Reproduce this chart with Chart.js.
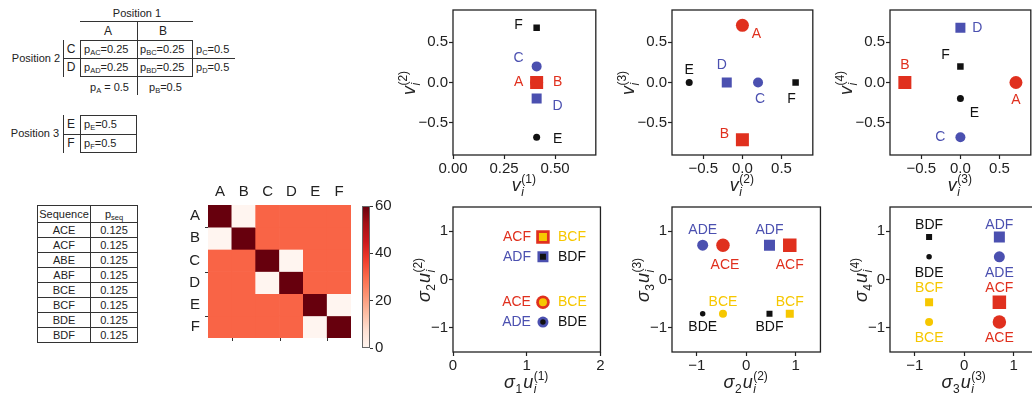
<!DOCTYPE html>
<html>
<head>
<meta charset="utf-8">
<script src="https://cdn.jsdelivr.net/npm/chart.js@4.4.1/dist/chart.umd.min.js"></script>
<style>
body{margin:0;width:1032px;height:398px;overflow:hidden;background:#fff;font-family:"Liberation Sans",Arial,sans-serif;}
#fig{position:relative;width:1032px;height:398px;overflow:hidden;}
canvas{position:absolute;}
.c{position:absolute;transform:translate(-50%,-50%);font-size:11px;white-space:nowrap;color:#222;line-height:1;}
.l{position:absolute;transform:translateY(-50%);font-size:11px;white-space:nowrap;color:#222;line-height:1;}
.h{position:absolute;height:1px;background:#333;}
.v{position:absolute;width:1px;background:#333;}
.box{position:absolute;border:1px solid #333;box-sizing:border-box;}
sub{font-size:7.5px;vertical-align:-2px;line-height:0;}
#seq{position:absolute;left:37px;top:205px;border-collapse:collapse;font-size:11px;color:#222;}
#seq td{border:1px solid #333;padding:0;text-align:center;height:14px;line-height:14px;}
#seq tr.hd td{height:16px;line-height:16px;}
</style>
</head>
<body>
<div id="fig">
  <!-- position 1 / position 2 table -->
  <div class="c" style="left:137px;top:13px">Position 1</div>
  <div class="h" style="left:80px;top:21px;width:113px"></div>
  <div class="c" style="left:108px;top:31px;font-size:12px">A</div>
  <div class="c" style="left:163px;top:31px;font-size:12px">B</div>
  <div class="box" style="left:80px;top:40px;width:113px;height:37px"></div>
  <div class="v" style="left:137px;top:21px;height:74px"></div>
  <div class="h" style="left:63px;top:58px;width:172px"></div>
  <div class="v" style="left:63px;top:40px;height:37px"></div>
  <div class="c" style="left:71px;top:49px;font-size:12px">C</div>
  <div class="c" style="left:71px;top:67px;font-size:12px">D</div>
  <div class="c" style="left:36px;top:58px">Position 2</div>
  <div class="l" style="left:84px;top:49px">p<sub>AC</sub>=0.25</div>
  <div class="l" style="left:140px;top:49px">p<sub>BC</sub>=0.25</div>
  <div class="l" style="left:196px;top:49px">p<sub>C</sub>=0.5</div>
  <div class="l" style="left:84px;top:67px">p<sub>AD</sub>=0.25</div>
  <div class="l" style="left:140px;top:67px">p<sub>BD</sub>=0.25</div>
  <div class="l" style="left:196px;top:67px">p<sub>D</sub>=0.5</div>
  <div class="l" style="left:90px;top:87px">p<sub>A</sub> = 0.5</div>
  <div class="l" style="left:149px;top:87px">p<sub>B</sub>=0.5</div>
  <!-- position 3 table -->
  <div class="box" style="left:80px;top:115px;width:57px;height:38px"></div>
  <div class="v" style="left:63px;top:115px;height:38px"></div>
  <div class="h" style="left:63px;top:134px;width:74px"></div>
  <div class="c" style="left:71px;top:124px;font-size:12px">E</div>
  <div class="c" style="left:71px;top:143px;font-size:12px">F</div>
  <div class="c" style="left:35px;top:133px">Position 3</div>
  <div class="l" style="left:84px;top:124px">p<sub>E</sub>=0.5</div>
  <div class="l" style="left:84px;top:143px">p<sub>F</sub>=0.5</div>
  <table id="seq"><colgroup><col style="width:53px"><col style="width:47px"></colgroup><tbody id="seqBody"></tbody></table>
</div>
<script>
// sequence table
const seqNames = ['ACE', 'ACF', 'ABE', 'ABF', 'BCE', 'BCF', 'BDE', 'BDF'];
const seqProb = [0.125, 0.125, 0.125, 0.125, 0.125, 0.125, 0.125, 0.125];

// co-occurrence matrix (heatmap)
const heatLabels = ['A', 'B', 'C', 'D', 'E', 'F'];
const heatValues = [
  [60, 0, 31, 31, 31, 31],
  [0, 60, 31, 31, 31, 31],
  [31, 31, 60, 0, 31, 31],
  [31, 31, 0, 60, 31, 31],
  [31, 31, 31, 31, 60, 0],
  [31, 31, 31, 31, 0, 60]
];
const cbarTicks = [0, 20, 40, 60];

// eigenvectors, one value per letter
const letters = ['A', 'B', 'C', 'D', 'E', 'F'];
const v1 = [0.41, 0.41, 0.41, 0.41, 0.41, 0.41];
const v2 = [0, 0, 0.2, -0.2, -0.68, 0.68];
const v3 = [0.71, -0.71, 0, 0, 0, 0];
const v4 = [0, 0, -0.68, 0.68, -0.2, 0.2];

// sequence coordinates
const seqs = ['ACE', 'ACF', 'ADE', 'ADF', 'BCE', 'BCF', 'BDE', 'BDF'];
const su1 = [1.22, 1.22, 1.22, 1.22, 1.22, 1.22, 1.22, 1.22];
const su2 = [-0.47, 0.88, -0.88, 0.47, -0.47, 0.88, -0.88, 0.47];
const su3 = [0.71, 0.71, 0.71, 0.71, -0.71, -0.71, -0.71, -0.71];
const su4 = [-0.88, -0.47, 0.47, 0.88, -0.88, -0.47, 0.47, 0.88];

// tick labels
const v1Ticks = [0, 0.25, 0.5];
const vTicks = [-0.5, 0, 0.5];
const su1Ticks = [0, 1, 2];
const suTicks = [-1, 0, 1];

const RED = '#e0301e', BLUE = '#4b50b0', YEL = '#f6c700', BLK = '#111111';
const FONT = '"Liberation Sans", Arial, sans-serif';
Chart.defaults.font.family = FONT;
Chart.defaults.color = '#222';

const fig = document.getElementById('fig');

// fill sequence table
const body = document.getElementById('seqBody');
body.innerHTML = '<tr class="hd"><td>Sequence</td><td>p<sub>seq</sub></td></tr>' +
  seqNames.map((s, i) => '<tr><td>' + s + '</td><td>' + seqProb[i] + '</td></tr>').join('');

function addCanvas(x, y, w, h) {
  const c = document.createElement('canvas');
  c.width = w; c.height = h;
  c.style.left = x + 'px'; c.style.top = y + 'px';
  fig.appendChild(c);
  return c;
}

// matplotlib "Reds"
const REDS = ['#fff5f0', '#fee0d2', '#fcbba1', '#fc9272', '#fb6a4a', '#ef3b2c', '#cb181d', '#a50f15', '#67000d'];
function hex(h) { return [1, 3, 5].map(i => parseInt(h.substr(i, 2), 16)); }
function reds(v) {
  const t = Math.max(0, Math.min(1, v / 60)) * (REDS.length - 1);
  const i = Math.min(Math.floor(t), REDS.length - 2), f = t - i;
  const a = hex(REDS[i]), b = hex(REDS[i + 1]);
  return 'rgb(' + a.map((x, k) => Math.round(x + (b[k] - x) * f)).join(',') + ')';
}

function drawMath(ctx, tokens, x, y, rot) {
  const BASE = 'italic 18px ' + FONT, SMALL = '12px ' + FONT, SMALLI = 'italic 12px ' + FONT;
  const w = t => {
    if (t.b) { ctx.font = BASE; return ctx.measureText(t.b).width + 0.5; }
    let m = 0;
    if (t.sub) { ctx.font = t.subI ? SMALLI : SMALL; m = Math.max(m, ctx.measureText(t.sub).width); }
    if (t.sup) { ctx.font = SMALL; m = Math.max(m, ctx.measureText(t.sup).width); }
    return m + 1;
  };
  ctx.save();
  ctx.translate(x, y);
  if (rot) ctx.rotate(-Math.PI / 2);
  const total = tokens.reduce((s, t) => s + w(t), 0);
  let cx = -total / 2;
  ctx.fillStyle = '#222'; ctx.textAlign = 'left'; ctx.textBaseline = 'alphabetic';
  tokens.forEach(t => {
    const tw = w(t);
    if (t.b) { ctx.font = BASE; ctx.fillText(t.b, cx, 0); }
    else {
      if (t.sub) { ctx.font = t.subI ? SMALLI : SMALL; ctx.fillText(t.sub, cx, 5); }
      if (t.sup) { ctx.font = SMALL; ctx.fillText(t.sup, cx, -8); }
    }
    cx += tw;
  });
  ctx.restore();
}
const vLab = n => [{b: 'v'}, {sub: 'i', subI: true, sup: '(' + n + ')'}];
const suLab = n => [{b: 'σ'}, {sub: String(n)}, {b: 'u'}, {sub: 'i', subI: true, sup: '(' + n + ')'}];

const minus = v => (v < 0 ? '\u2212' : '') + Math.abs(v);
const fmt1 = v => (v < 0 ? '\u2212' : '') + Math.abs(v).toFixed(1);
const fmt2 = v => Math.abs(v).toFixed(2);

function scatterPanel(p) {
  const [cx, cy, cw, ch] = p.cvs;
  const [al, at, ar, ab] = p.area;
  const c = addCanvas(cx, cy, cw, ch);
  const datasets = p.names.map((n, i) => {
    const st = p.styles[i];
    return {
      label: n,
      data: [{x: p.xs[i], y: p.ys[i]}],
      pointStyle: st.shape,
      pointRadius: st.shape === 'rect' ? st.s / Math.SQRT2 : st.s / 2,
      backgroundColor: st.c, borderColor: st.c, borderWidth: 0,
      order: p.names.length - i
    };
  });
  const axis = (min, max, ticks, f, fit) => ({
    type: 'linear', min, max,
    afterFit: fit,
    afterBuildTicks: s => { s.ticks = ticks.map(v => ({value: v})); },
    ticks: {callback: v => f(v), font: {size: 15}, color: '#222', padding: 1, autoSkip: false, maxRotation: 0},
    grid: {drawOnChartArea: false, tickLength: 4, color: '#222', tickWidth: 1.2},
    border: {display: false}
  });
  new Chart(c, {
    type: 'scatter',
    data: {datasets},
    options: {
      responsive: false, animation: false, events: [],
      layout: {padding: {top: at - cy, right: cx + cw - ar, left: 0, bottom: 0}},
      plugins: {legend: {display: false}, tooltip: {enabled: false}},
      scales: {
        x: axis(p.xr[0], p.xr[1], p.xt, p.xf, s => { s.height = cy + ch - ab; }),
        y: axis(p.yr[0], p.yr[1], p.yt, p.yf, s => { s.width = al - cx; })
      }
    },
    plugins: [{
      id: 'deco',
      afterDraw(chart) {
        const ctx = chart.ctx, a = chart.chartArea;
        ctx.save();
        ctx.strokeStyle = '#222'; ctx.lineWidth = 1.3;
        ctx.strokeRect(a.left, a.top, a.right - a.left, a.bottom - a.top);
        ctx.font = '14px ' + FONT; ctx.textBaseline = 'middle';
        p.names.forEach((n, i) => {
          const pt = chart.getDatasetMeta(i).data[0];
          const o = p.offs[i];
          ctx.fillStyle = p.styles[i].c;
          ctx.textAlign = o[2] || 'center';
          ctx.fillText(n, pt.x + o[0], pt.y + o[1]);
        });
        ctx.restore();
        drawMath(ctx, p.xTitle, (a.left + a.right) / 2, a.bottom + 36, false);
        drawMath(ctx, p.yTitle, a.left - p.yGap, (a.top + a.bottom) / 2, true);
      }
    }]
  });
}

// letter marker styles
const letterStyles = [
  {c: RED, shape: 'circle', s: 13}, {c: RED, shape: 'rect', s: 13},
  {c: BLUE, shape: 'circle', s: 10}, {c: BLUE, shape: 'rect', s: 10},
  {c: BLK, shape: 'circle', s: 7}, {c: BLK, shape: 'rect', s: 6.5}
];
const seqStyles = [
  {c: RED, shape: 'circle', s: 13.5}, {c: RED, shape: 'rect', s: 13.5},
  {c: BLUE, shape: 'circle', s: 11}, {c: BLUE, shape: 'rect', s: 11},
  {c: YEL, shape: 'circle', s: 8}, {c: YEL, shape: 'rect', s: 8},
  {c: BLK, shape: 'circle', s: 5.5}, {c: BLK, shape: 'rect', s: 6}
];

scatterPanel({
  cvs: [390, 0, 215, 200], area: [453, 8, 597, 155],
  xr: [0, 0.7], yr: [-0.9, 0.9], xt: v1Ticks, yt: vTicks, xf: fmt2, yf: fmt1,
  xs: v1, ys: v2, names: letters, styles: letterStyles,
  offs: [[-18, 0], [21, 0], [-18, -8], [21, 8], [21, 2], [-18, -3]],
  xTitle: vLab(1), yTitle: vLab(2), yGap: 38
});
scatterPanel({
  cvs: [610, 0, 212, 200], area: [672, 8, 814, 155],
  xr: [-0.9, 0.9], yr: [-0.9, 0.9], xt: vTicks, yt: vTicks, xf: fmt1, yf: fmt1,
  xs: v2, ys: v3, names: letters, styles: letterStyles,
  offs: [[14, 9], [-18, -6], [2, 17], [-5, -17], [0, -12], [-4, 17]],
  xTitle: vLab(2), yTitle: vLab(3), yGap: 38
});
scatterPanel({
  cvs: [828, 0, 212, 200], area: [890, 8, 1032, 155],
  xr: [-0.9, 0.9], yr: [-0.9, 0.9], xt: vTicks, yt: vTicks, xf: fmt1, yf: fmt1,
  xs: v3, ys: v4, names: letters, styles: letterStyles,
  offs: [[0, 18], [0, -17], [-20, 0], [17, 0], [14, 15], [-15, -11]],
  xTitle: vLab(3), yTitle: vLab(4), yGap: 38
});
scatterPanel({
  cvs: [390, 195, 220, 203], area: [453, 207, 604, 352],
  xr: [0, 2], yr: [-1.5, 1.5], xt: su1Ticks, yt: suTicks, xf: minus, yf: minus,
  xs: su1, ys: su2, names: seqs, styles: seqStyles,
  offs: [[-12, 0, 'right'], [-12, 0, 'right'], [-12, 0, 'right'], [-12, 0, 'right'],
         [15, 0, 'left'], [15, 0, 'left'], [15, 0, 'left'], [15, 0, 'left']],
  xTitle: suLab(1), yTitle: suLab(2), yGap: 23
});
scatterPanel({
  cvs: [610, 195, 220, 203], area: [672, 207, 822, 352],
  xr: [-1.5, 1.5], yr: [-1.5, 1.5], xt: suTicks, yt: suTicks, xf: minus, yf: minus,
  xs: su2, ys: su3, names: seqs, styles: seqStyles,
  offs: [[2, 20], [0, 20], [0, -15], [0, -15], [0, -12], [0, -12], [0, 13], [0, 13]],
  xTitle: suLab(2), yTitle: suLab(3), yGap: 23
});
scatterPanel({
  cvs: [828, 195, 220, 203], area: [890, 207, 1041, 352],
  xr: [-1.5, 1.5], yr: [-1.5, 1.5], xt: suTicks, yt: suTicks, xf: minus, yf: minus,
  xs: su3, ys: su4, names: seqs, styles: seqStyles,
  offs: [[0, 16], [0, -14], [0, 16], [0, -12], [0, 16], [0, -14], [0, 16], [0, -12]],
  xTitle: suLab(3), yTitle: suLab(4), yGap: 23
});

// heatmap as stacked bars, one dataset per row
new Chart(addCanvas(180, 180, 180, 175), {
  type: 'bar',
  data: {
    labels: heatLabels,
    datasets: heatValues.map((row, i) => ({
      label: heatLabels[i],
      data: row.map(() => 1),
      backgroundColor: row.map(reds),
      borderWidth: 0, categoryPercentage: 1, barPercentage: 1
    }))
  },
  options: {
    responsive: false, animation: false, events: [],
    layout: {padding: {top: 0, right: 9, left: 0, bottom: 7}},
    plugins: {legend: {display: false}, tooltip: {enabled: false}},
    scales: {
      x: {
        position: 'top', stacked: true,
        afterFit: s => { s.height = 25; },
        grid: {display: false, drawTicks: false}, border: {display: false},
        ticks: {font: {size: 15}, padding: 4, color: '#222'}
      },
      y: {
        stacked: true, min: 0, max: 6, reverse: true,
        afterFit: s => { s.width = 28; },
        afterBuildTicks: s => { s.ticks = heatLabels.map((l, i) => ({value: i + 0.5})); },
        ticks: {callback: (v, i) => heatLabels[i], font: {size: 15}, padding: 8, autoSkip: false, color: '#222'},
        grid: {display: false, drawTicks: false}, border: {display: false}
      }
    }
  },
  plugins: [{
    id: 'heatTicks',
    afterDraw(chart) {
      const ctx = chart.ctx, a = chart.chartArea;
      const cw = (a.right - a.left) / 6, rh = (a.bottom - a.top) / 6;
      ctx.save();
      ctx.strokeStyle = '#333'; ctx.lineWidth = 1;
      ctx.beginPath();
      [1, 3, 5].forEach(k => {
        const x = Math.round(a.left + k * cw) + 0.5, y = Math.round(a.top + k * rh) + 0.5;
        ctx.moveTo(x, a.bottom); ctx.lineTo(x, a.bottom + 3);
        ctx.moveTo(a.left, y); ctx.lineTo(a.left - 3, y);
      });
      ctx.stroke();
      ctx.restore();
    }
  }]
});

// colorbar
new Chart(addCanvas(355, 195, 50, 165), {
  type: 'bar',
  data: {
    labels: [''],
    datasets: [{
      data: [cbarTicks[cbarTicks.length - 1]],
      backgroundColor: c => {
        const a = c.chart.chartArea;
        if (!a) return reds(30);
        const g = c.chart.ctx.createLinearGradient(0, a.bottom, 0, a.top);
        REDS.forEach((col, i) => g.addColorStop(i / (REDS.length - 1), col));
        return g;
      },
      borderWidth: 0, categoryPercentage: 1, barPercentage: 1
    }]
  },
  options: {
    responsive: false, animation: false, events: [],
    layout: {padding: {top: 10, right: 0, left: 7, bottom: 12}},
    plugins: {legend: {display: false}, tooltip: {enabled: false}},
    scales: {
      x: {display: false},
      y: {
        position: 'right', min: 0, max: 60,
        afterFit: s => { s.width = 35; },
        afterBuildTicks: s => { s.ticks = cbarTicks.map(v => ({value: v})); },
        ticks: {font: {size: 15}, padding: 2, color: '#222'},
        grid: {drawOnChartArea: false, tickLength: 3, color: '#333'},
        border: {display: false}
      }
    }
  },
  plugins: [{
    id: 'cbFrame',
    afterDraw(chart) {
      const ctx = chart.ctx, a = chart.chartArea;
      ctx.save();
      ctx.strokeStyle = '#666'; ctx.lineWidth = 1;
      ctx.strokeRect(Math.round(a.left) + 0.5, Math.round(a.top) + 0.5, Math.round(a.right - a.left) - 1, Math.round(a.bottom - a.top) - 1);
      ctx.restore();
    }
  }]
});
</script>
</body>
</html>
